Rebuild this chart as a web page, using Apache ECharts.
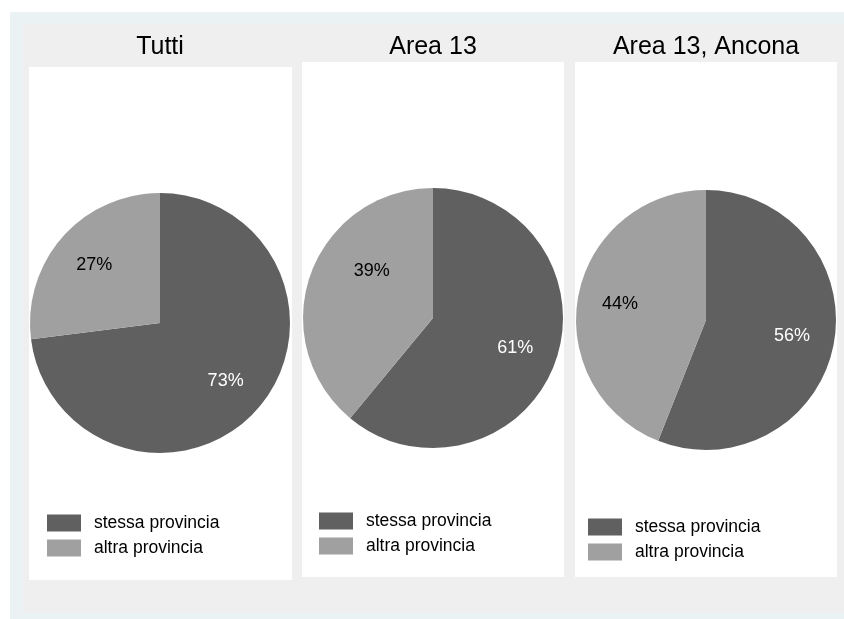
<!DOCTYPE html>
<html>
<head>
<meta charset="utf-8">
<script src="https://cdn.jsdelivr.net/npm/echarts@6/dist/echarts.min.js"></script>
<style>
html,body{margin:0;padding:0;background:#fff;}
#chart{width:844px;height:619px;}
</style>
</head>
<body>
<div id="chart"></div>
<script>
// ---- data ----
const categories = ['stessa provincia', 'altra provincia'];
const panelTitles = ['Tutti', 'Area 13', 'Area 13, Ancona'];
const valuesTutti = [73, 27];
const valuesArea13 = [61, 39];
const valuesAncona = [56, 44];

// ---- layout / style ----
const FONT = 'Liberation Sans, Arial, sans-serif';
const colors = ['#606060', '#a0a0a0'];
const labelColors = ['#ffffff', '#000000'];
const panelValues = [valuesTutti, valuesArea13, valuesAncona];
const panels = [
  {x: 29, y: 67, w: 263, h: 513, cx: 160, cy: 323, titleX: 160, legendLeft: 47, legendTop: 514, offsets: [[0, 0], [0, 0]]},
  {x: 302, y: 62, w: 262, h: 515, cx: 433, cy: 318, titleX: 433, legendLeft: 319, legendTop: 512, offsets: [[0, 0], [21, -17]]},
  {x: 575, y: 62, w: 262, h: 515, cx: 706, cy: 320, titleX: 706, legendLeft: 588, legendTop: 518, offsets: [[0, 0], [0, 0]]}
];
const R = 130;

const chart = echarts.init(document.getElementById('chart'), null, {renderer: 'canvas'});

const graphic = [
  {type: 'rect', shape: {x: 10, y: 12, width: 834, height: 607}, style: {fill: '#eaf2f3'}, silent: true, z: -10},
  {type: 'rect', shape: {x: 23, y: 24, width: 821, height: 589}, style: {fill: '#efefef'}, silent: true, z: -9}
];
panels.forEach(p => {
  graphic.push({type: 'rect', shape: {x: p.x, y: p.y, width: p.w, height: p.h}, style: {fill: '#ffffff'}, silent: true, z: -8});
});

const titles = panels.map((p, i) => ({
  text: panelTitles[i],
  left: p.titleX,
  top: 35,
  padding: 0,
  textAlign: 'center',
  textStyle: {fontFamily: FONT, fontSize: 25, fontWeight: 'normal', color: '#000'}
}));

const legends = panels.map((p, i) => ({
  orient: 'vertical',
  left: p.legendLeft,
  top: p.legendTop,
  itemWidth: 34,
  itemHeight: 17,
  itemGap: 7,
  icon: 'rect',
  selectedMode: false,
  padding: 0,
  textStyle: {fontFamily: FONT, fontSize: 17.5, color: '#000', padding: [0, 0, 0, 8]},
  data: categories.map((c, k) => ({name: c, itemStyle: {color: colors[k]}}))
}));

const series = [];
panels.forEach((p, i) => {
  series.push({
    type: 'pie',
    center: [p.cx, p.cy],
    radius: [0, R],
    startAngle: 90,
    clockwise: true,
    silent: true,
    label: {show: false},
    labelLine: {show: false},
    itemStyle: {borderWidth: 0},
    emphasis: {disabled: true},
    data: categories.map((c, k) => ({name: c, value: panelValues[i][k], itemStyle: {color: colors[k]}}))
  });
});
panels.forEach((p, i) => {
  series.push({
    type: 'pie',
    center: [p.cx, p.cy],
    radius: [R * 0.3, R],
    startAngle: 90,
    clockwise: true,
    silent: true,
    legendHoverLink: false,
    labelLine: {show: false},
    itemStyle: {color: 'rgba(0,0,0,0)', borderWidth: 0},
    emphasis: {disabled: true},
    label: {show: true, position: 'inside', formatter: '{c}%', fontFamily: FONT, fontSize: 18},
    data: categories.map((c, k) => ({
      name: c,
      value: panelValues[i][k],
      label: {color: labelColors[k], offset: p.offsets[k]}
    }))
  });
});

chart.setOption({
  backgroundColor: '#ffffff',
  animation: false,
  graphic: graphic,
  title: titles,
  legend: legends,
  series: series
});
</script>
</body>
</html>
